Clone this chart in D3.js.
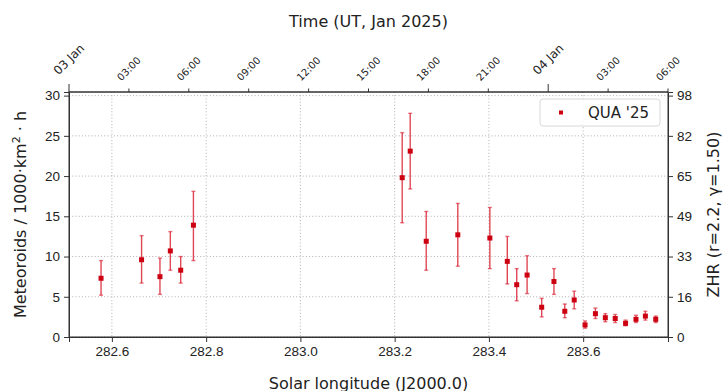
<!DOCTYPE html>
<html>
<head>
<meta charset="utf-8">
<script src="https://cdn.jsdelivr.net/npm/d3@7"></script>
<style>
  body { margin: 0; background: #fff; }
  svg { font-family: "DejaVu Sans", sans-serif; }
  .grid line { stroke: #a8a8a8; stroke-width: 0.9; stroke-dasharray: 1,2.2; }
  .axis path, .axis line { stroke: #333; }
  .axis text { fill: #222; }
</style>
</head>
<body>
<div id="app"></div>
<script>
// data
const solarLon = [282.577, 282.663, 282.702, 282.724, 282.746, 282.773, 283.216, 283.233, 283.267, 283.334,
                  283.402, 283.439, 283.459, 283.481, 283.512, 283.538, 283.561, 283.581, 283.604, 283.626,
                  283.647, 283.668, 283.690, 283.712, 283.732, 283.754]
const rate     = [7.3, 9.6, 7.5, 10.7, 8.3, 13.9, 19.8, 23.1, 11.9, 12.7,
                  12.3, 9.4, 6.5, 7.7, 3.7, 6.9, 3.2, 4.6, 1.5, 2.9,
                  2.4, 2.3, 1.7, 2.2, 2.6, 2.2]
const rateLow  = [5.2, 6.7, 5.3, 8.3, 6.7, 9.5, 14.2, 18.4, 8.3, 8.8,
                  8.5, 6.6, 4.5, 5.4, 2.5, 5.3, 2.4, 3.5, 1.1, 2.3,
                  1.9, 1.8, 1.4, 1.8, 2.1, 1.8]
const rateHigh = [9.5, 12.6, 9.8, 13.1, 10.0, 18.1, 25.4, 27.8, 15.6, 16.6,
                  16.1, 12.5, 8.5, 10.1, 4.8, 8.5, 4.1, 5.7, 2.0, 3.6,
                  2.9, 2.8, 2.1, 2.7, 3.2, 2.6]
const xTicks = [282.6, 282.8, 283.0, 283.2, 283.4, 283.6]
const yTicks = [0, 5, 10, 15, 20, 25, 30]
const zhrTickLabels = ['0', '16', '33', '49', '65', '82', '98']
const seriesName = "QUA '25"

const width = 724, height = 391
const margin = { left: 69, top: 92, right: 56, bottom: 54 }
const bounds = {
  width: width - margin.left - margin.right,
  height: height - margin.top - margin.bottom
}
const red = '#cc0011'

const root = d3.select('#app')
               .append('svg')
                 .attr('width', width)
                 .attr('height', height)
const svg = root.append('g')
                .attr('transform', `translate(${margin.left}, ${margin.top})`)

// scales
const xScale = d3.scaleLinear().domain([282.509, 283.78]).range([0, bounds.width])
const yScale = d3.scaleLinear().domain([0, 30.45]).range([bounds.height, 0])
const tScale = d3.scaleUtc()
                 .domain([new Date(Date.UTC(2025, 0, 3, 0)), new Date(Date.UTC(2025, 0, 4, 6))])
                 .range([0, bounds.width])

// grid
svg.append('g').attr('class', 'grid')
   .selectAll('line').data(xTicks).join('line')
     .attr('x1', d => xScale(d)).attr('x2', d => xScale(d))
     .attr('y1', 0).attr('y2', bounds.height)
svg.append('g').attr('class', 'grid')
   .selectAll('line').data(yTicks).join('line')
     .attr('x1', 0).attr('x2', bounds.width)
     .attr('y1', d => yScale(d)).attr('y2', d => yScale(d))

// bottom axis
const xAxis = svg.append('g').attr('class', 'axis')
   .attr('transform', `translate(0, ${bounds.height})`)
   .call(d3.axisBottom(xScale).tickValues(xTicks).tickFormat(d3.format('.1f')).tickSizeOuter(0).tickSize(5).tickPadding(4))
xAxis.selectAll('text').attr('font-size', 13.5)

// left axis
const yAxis = svg.append('g').attr('class', 'axis')
   .call(d3.axisLeft(yScale).tickValues(yTicks).tickSizeOuter(0).tickSize(5).tickPadding(4))
yAxis.selectAll('text').attr('font-size', 13.5)

// right axis (ZHR)
const rAxis = svg.append('g').attr('class', 'axis')
   .attr('transform', `translate(${bounds.width}, 0)`)
   .call(d3.axisRight(yScale).tickValues(yTicks).tickFormat((d, i) => zhrTickLabels[i]).tickSizeOuter(0).tickSize(5).tickPadding(4))
rAxis.selectAll('text').attr('font-size', 13.5)

// top axis (time)
const tTicks = tScale.ticks(d3.utcHour.every(3))
const isDay = d => d.getUTCHours() === 0
const topAxis = svg.append('g').attr('class', 'axis')
topAxis.append('line')
   .attr('x1', 0).attr('x2', bounds.width).attr('y1', 0).attr('y2', 0)
   .attr('stroke', '#333')
topAxis.selectAll('.ttick').data(tTicks).join('line')
   .attr('x1', d => tScale(d)).attr('x2', d => tScale(d))
   .attr('y1', 0).attr('y2', d => isDay(d) ? -8 : -3.5)
   .attr('stroke', '#333')
const tLabels = topAxis.selectAll('.tlabel').data(tTicks).join('text')
   .attr('font-size', d => isDay(d) ? 12 : 10)
   .attr('fill', '#222')
   .attr('text-anchor', 'middle')
   .attr('dominant-baseline', 'central')
   .text(d => isDay(d) ? d3.utcFormat('%d %b')(d) : d3.utcFormat('%H:%M')(d))
tLabels.each(function(d) {
  const w = this.getComputedTextLength()
  const fs = +d3.select(this).attr('font-size')
  const pad = isDay(d) ? 15 : 9.5
  const half = (w + fs) / (2 * Math.SQRT2)
  d3.select(this).attr('transform', `translate(${tScale(d)}, ${-pad - half}) rotate(-45)`)
})

// frame
svg.append('rect')
   .attr('width', bounds.width).attr('height', bounds.height)
   .attr('fill', 'none').attr('stroke', '#333')

// error bars
const idx = d3.range(solarLon.length)
const bars = svg.append('g').attr('stroke', '#d8192a').attr('stroke-opacity', 0.8).attr('stroke-width', 1.4)
bars.selectAll('.eb').data(idx).join('line')
   .attr('x1', i => xScale(solarLon[i])).attr('x2', i => xScale(solarLon[i]))
   .attr('y1', i => yScale(rateLow[i])).attr('y2', i => yScale(rateHigh[i]))
bars.selectAll('.capHi').data(idx).join('line')
   .attr('x1', i => xScale(solarLon[i]) - 2).attr('x2', i => xScale(solarLon[i]) + 2)
   .attr('y1', i => yScale(rateHigh[i])).attr('y2', i => yScale(rateHigh[i]))
   .attr('stroke-opacity', 0.6)
bars.selectAll('.capLo').data(idx).join('line')
   .attr('x1', i => xScale(solarLon[i]) - 2).attr('x2', i => xScale(solarLon[i]) + 2)
   .attr('y1', i => yScale(rateLow[i])).attr('y2', i => yScale(rateLow[i]))
   .attr('stroke-opacity', 0.6)

// markers
svg.append('g').selectAll('rect').data(idx).join('rect')
   .attr('x', i => xScale(solarLon[i]) - 2.5)
   .attr('y', i => yScale(rate[i]) - 2.5)
   .attr('width', 5).attr('height', 5)
   .attr('fill', red)

// legend
const legend = svg.append('g').attr('transform', `translate(${bounds.width - 128}, 7)`)
legend.append('rect')
   .attr('width', 120).attr('height', 27).attr('rx', 3)
   .attr('fill', '#fff').attr('fill-opacity', 0.85)
   .attr('stroke', '#d8d8d8')
legend.append('rect')
   .attr('x', 19).attr('y', 11.5).attr('width', 4).attr('height', 4)
   .attr('fill', red)
legend.append('text')
   .attr('x', 48).attr('y', 19)
   .attr('font-size', 15).attr('fill', '#222')
   .text(seriesName)

// axis labels
root.append('text')
   .attr('x', margin.left + bounds.width / 2).attr('y', 27)
   .attr('text-anchor', 'middle').attr('font-size', 16).attr('fill', '#222')
   .text('Time (UT, Jan 2025)')
root.append('text')
   .attr('x', margin.left + bounds.width / 2).attr('y', 389)
   .attr('text-anchor', 'middle').attr('font-size', 16).attr('fill', '#222')
   .text('Solar longitude (J2000.0)')
root.append('text')
   .attr('transform', `translate(26, ${margin.top + bounds.height / 2}) rotate(-90)`)
   .attr('text-anchor', 'middle').attr('font-size', 16).attr('fill', '#222')
   .html('Meteoroids / 1000·km<tspan dy="-6" font-size="11">2</tspan><tspan dy="6"> · h</tspan>')
root.append('text')
   .attr('transform', `translate(719, ${margin.top + bounds.height / 2}) rotate(-90)`)
   .attr('text-anchor', 'middle').attr('font-size', 16).attr('fill', '#222')
   .text('ZHR (r=2.2, γ=1.50)')
</script>
</body>
</html>
